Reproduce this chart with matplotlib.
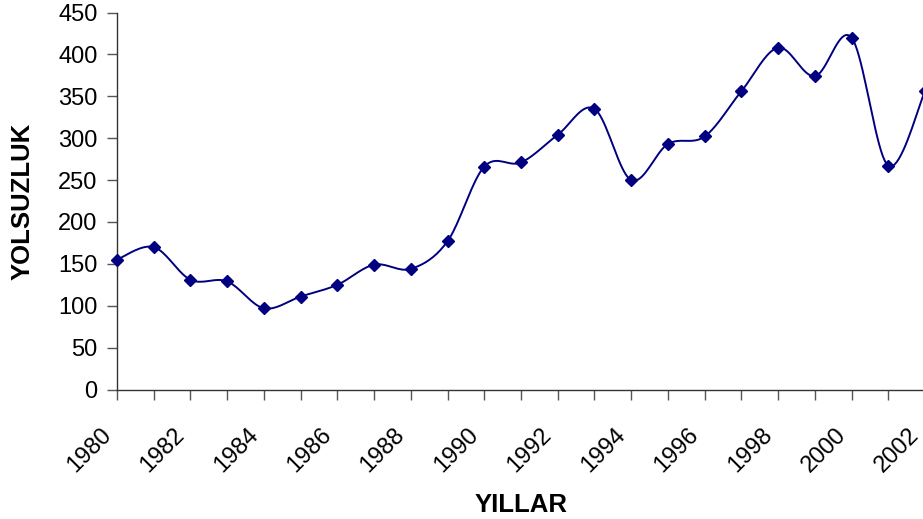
import numpy as np
import matplotlib
matplotlib.use("Agg")
import matplotlib.pyplot as plt
import matplotlib.transforms as mtransforms

years = list(range(1980, 2003))
values = [155, 170, 131, 129, 97, 111, 125, 149, 144, 177, 266, 271, 304, 335, 250,
          293, 302, 356, 408, 374, 420, 267, 356]
tick_labels = [str(y) if y % 2 == 0 else "" for y in years]

plt.rcParams['font.family'] = ['Liberation Sans', 'DejaVu Sans']

def smooth(x, y, n=20):
    x = np.asarray(x, float); y = np.asarray(y, float)
    xs, ys = [], []
    N = len(x)
    for i in range(N - 1):
        p0 = (x[max(i - 1, 0)], y[max(i - 1, 0)])
        p1 = (x[i], y[i]); p2 = (x[i + 1], y[i + 1])
        p3 = (x[min(i + 2, N - 1)], y[min(i + 2, N - 1)])
        c1 = (p1[0] + (p2[0] - p0[0]) / 6, p1[1] + (p2[1] - p0[1]) / 6)
        c2 = (p2[0] - (p3[0] - p1[0]) / 6, p2[1] - (p3[1] - p1[1]) / 6)
        t = np.linspace(0, 1, n, endpoint=(i == N - 2))
        b0 = (1 - t) ** 3; b1 = 3 * (1 - t) ** 2 * t; b2 = 3 * (1 - t) * t ** 2; b3 = t ** 3
        xs.append(b0 * p1[0] + b1 * c1[0] + b2 * c2[0] + b3 * p2[0])
        ys.append(b0 * p1[1] + b1 * c1[1] + b2 * c2[1] + b3 * p2[1])
    return np.concatenate(xs), np.concatenate(ys)

fig = plt.figure(figsize=(9.23, 5.19), dpi=100)
ax = fig.add_axes([117 / 923, 1 - 389.5 / 519, (925 - 117) / 923, (389.5 - 12.5) / 519])

sx, sy = smooth(years, values)
ax.plot(sx, sy, color='#000080', lw=1.4, clip_on=False, zorder=3)
ax.plot(years, values, linestyle='none', marker='D', ms=6.5, color='#000080', clip_on=False, zorder=4)

ax.set_xlim(1980, 2002)
ax.set_ylim(0, 450)
ax.set_yticks(range(0, 451, 50))
ax.set_xticks(years)
ax.set_xticklabels(tick_labels, rotation=45, ha='right', va='top', rotation_mode='anchor')
ax.tick_params(axis='both', labelsize=17, direction='out', length=7, width=1, color='#555555', colors='black')
ax.tick_params(axis='x', pad=3)
ax.tick_params(axis='y', pad=7)
offset = mtransforms.ScaledTranslation(-0.17, -0.20, fig.dpi_scale_trans)
for lab in ax.get_xticklabels():
    lab.set_transform(lab.get_transform() + offset)
for s in ['top', 'right']:
    ax.spines[s].set_visible(False)
for s in ['left', 'bottom']:
    ax.spines[s].set_color('#333333')
    ax.spines[s].set_linewidth(1)

ax.set_ylabel('YOLSUZLUK', fontsize=18.5, fontweight='bold')
ax.set_xlabel('YILLAR', fontsize=18.5, fontweight='bold')
ax.yaxis.set_label_coords(-82 / 808, 0.5)
ax.xaxis.set_label_coords((521 - 117) / 808, -(493 - 389.5) / 377)

fig.savefig('out.png', dpi=100)
